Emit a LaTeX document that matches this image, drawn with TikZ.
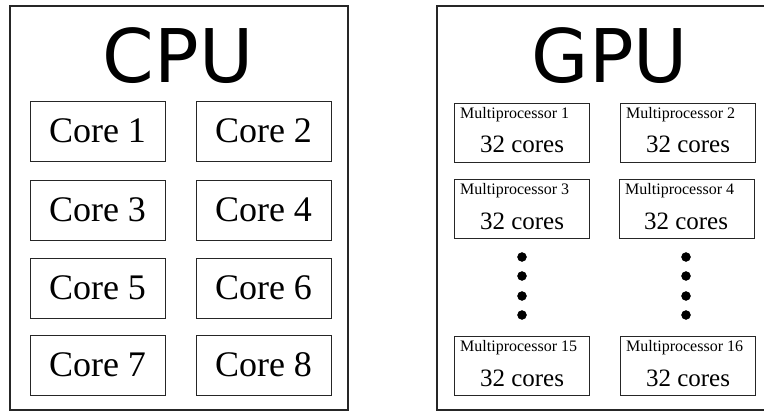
\documentclass[tikz,border=0pt]{standalone}
\usepackage{fontspec}
\setmainfont{Liberation Serif}
\newfontfamily\chipfont{DejaVu Sans}
\tikzset{
  chip/.style={draw=black!85,line width=1.6pt},
  corebox/.style={draw=black!85,line width=0.8pt,minimum width=135pt,minimum height=60pt,inner sep=0pt,font=\fontsize{36}{40}\selectfont},
  mpbox/.style={draw=black!85,line width=0.8pt,minimum width=135pt,minimum height=59pt,inner sep=0pt},
  mplabel/.style={anchor=base west,inner sep=0pt,font=\fontsize{16}{18}\selectfont},
  mpcores/.style={anchor=base,inner sep=0pt,font=\fontsize{25}{28}\selectfont},
  chiptitle/.style={anchor=base,inner sep=0pt,font=\chipfont\fontsize{74}{80}\selectfont}
}
\begin{document}
\begin{tikzpicture}[x=1pt,y=-1pt]
\useasboundingbox (0,0) rectangle (764,412);
\clip (0,0) rectangle (764,412);
% CPU
\draw[chip] (10,6) rectangle (348,410);
\node[chiptitle] (cpu) at (178,83) {CPU};
\node[corebox] (core1) at (97.5,131) {Core 1};
\node[corebox] (core2) at (263.5,131) {Core 2};
\node[corebox] (core3) at (97.5,210) {Core 3};
\node[corebox] (core4) at (263.5,210) {Core 4};
\node[corebox] (core5) at (97.5,288) {Core 5};
\node[corebox] (core6) at (263.5,288) {Core 6};
\node[corebox] (core7) at (97.5,365) {Core 7};
\node[corebox] (core8) at (263.5,365) {Core 8};
% GPU
\draw[chip] (437,6) rectangle (783,410);
\node[chiptitle] (gpu) at (610,83) {GPU};
\node[mpbox] (mp1) at (521.5,132.5) {};
\node[mpbox] (mp2) at (687.5,132.5) {};
\node[mpbox] (mp3) at (521.5,208.5) {};
\node[mpbox] (mp4) at (686.5,208.5) {};
\node[mpbox] (mp15) at (522,366) {};
\node[mpbox] (mp16) at (687.5,366) {};
\node[mplabel] (mp1t) at (460,118) {Multiprocessor 1};
\node[mplabel] (mp2t) at (626,118) {Multiprocessor 2};
\node[mplabel] (mp3t) at (460,194) {Multiprocessor 3};
\node[mplabel] (mp4t) at (625,194) {Multiprocessor 4};
\node[mplabel] (mp15t) at (460,351) {Multiprocessor 15};
\node[mplabel] (mp16t) at (626,351) {Multiprocessor 16};
\node[mpcores] (mp1c) at (522,153) {32 cores};
\node[mpcores] (mp2c) at (688,153) {32 cores};
\node[mpcores] (mp3c) at (522,229) {32 cores};
\node[mpcores] (mp4c) at (686,229) {32 cores};
\node[mpcores] (mp15c) at (522,386) {32 cores};
\node[mpcores] (mp16c) at (688,386) {32 cores};
\filldraw[black] (522,257) circle (4.5pt);
\filldraw[black] (522,276) circle (4.5pt);
\filldraw[black] (522,296) circle (4.5pt);
\filldraw[black] (522,315) circle (4.5pt);
\filldraw[black] (686,257) circle (4.5pt);
\filldraw[black] (686,276) circle (4.5pt);
\filldraw[black] (686,296) circle (4.5pt);
\filldraw[black] (686,315) circle (4.5pt);
\end{tikzpicture}
\end{document}
